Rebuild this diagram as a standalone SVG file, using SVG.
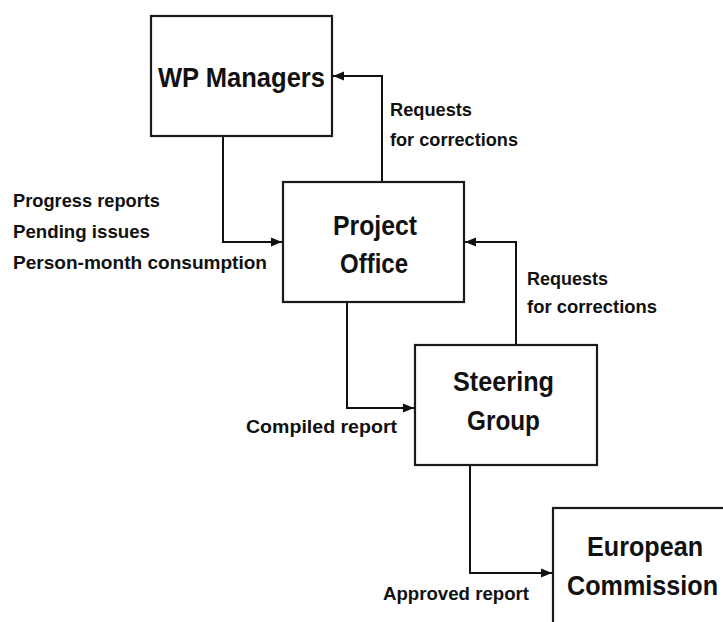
<svg xmlns="http://www.w3.org/2000/svg" width="723" height="622" viewBox="0 0 723 622">
<style>
.box{fill:#fff;stroke:#1a1a1a;stroke-width:2.2}
.node{font-family:"Liberation Sans",Arial,sans-serif;font-weight:bold;font-size:28px;fill:#111}
.lbl{font-family:"Liberation Sans",Arial,sans-serif;font-weight:bold;font-size:19px;fill:#111}
.conn{fill:none;stroke:#111;stroke-width:2}
</style>
<defs>
<marker id="ah" markerWidth="12" markerHeight="10" refX="11" refY="5" orient="auto" markerUnits="userSpaceOnUse">
<path d="M0,0.5 L11,5 L0,9.5 Z" fill="#111"/>
</marker>
</defs>
<rect width="723" height="622" fill="#fff"/>
<g id="connectors">
<path class="conn" d="M223,136 V242 H282" marker-end="url(#ah)"/>
<path class="conn" d="M382,182 V76 H333" marker-end="url(#ah)"/>
<path class="conn" d="M347,302 V408 H414" marker-end="url(#ah)"/>
<path class="conn" d="M516,345 V242 H465" marker-end="url(#ah)"/>
<path class="conn" d="M470,465 V573 H552" marker-end="url(#ah)"/>
</g>
<g id="wp-managers">
<rect class="box" x="151" y="16" width="181" height="120"/>
<text class="node" x="158" y="87" font-size="30" textLength="167" lengthAdjust="spacingAndGlyphs">WP Managers</text>
</g>
<g id="project-office">
<rect class="box" x="283" y="182" width="181" height="120"/>
<text class="node" x="333" y="235" textLength="84" lengthAdjust="spacingAndGlyphs">Project</text>
<text class="node" x="340" y="273" textLength="68" lengthAdjust="spacingAndGlyphs">Office</text>
</g>
<g id="steering-group">
<rect class="box" x="415" y="345" width="182" height="120"/>
<text class="node" x="453" y="391" textLength="101" lengthAdjust="spacingAndGlyphs">Steering</text>
<text class="node" x="467" y="430" textLength="73" lengthAdjust="spacingAndGlyphs">Group</text>
</g>
<g id="european-commission">
<rect class="box" x="553" y="508" width="200" height="140"/>
<text class="node" x="587" y="556" textLength="116" lengthAdjust="spacingAndGlyphs">European</text>
<text class="node" x="567" y="595" textLength="151" lengthAdjust="spacingAndGlyphs">Commission</text>
</g>
<g id="labels">
<text class="lbl" x="390" y="116" textLength="82" lengthAdjust="spacingAndGlyphs">Requests</text>
<text class="lbl" x="390" y="146" textLength="128" lengthAdjust="spacingAndGlyphs">for corrections</text>
<text class="lbl" x="13" y="207" textLength="147" lengthAdjust="spacingAndGlyphs">Progress reports</text>
<text class="lbl" x="13" y="238" textLength="137" lengthAdjust="spacingAndGlyphs">Pending issues</text>
<text class="lbl" x="13" y="269" textLength="254" lengthAdjust="spacingAndGlyphs">Person-month consumption</text>
<text class="lbl" x="527" y="285" textLength="81" lengthAdjust="spacingAndGlyphs">Requests</text>
<text class="lbl" x="527" y="313" textLength="130" lengthAdjust="spacingAndGlyphs">for corrections</text>
<text class="lbl" x="246" y="433" textLength="151" lengthAdjust="spacingAndGlyphs">Compiled report</text>
<text class="lbl" x="383" y="600" textLength="146" lengthAdjust="spacingAndGlyphs">Approved report</text>
</g>
</svg>
